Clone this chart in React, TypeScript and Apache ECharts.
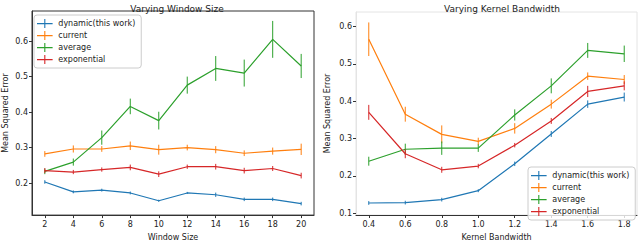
import React, { useEffect, useRef } from "react";
import * as echarts from "echarts";

const windowSizes = [2, 4, 6, 8, 10, 12, 14, 16, 18, 20];
const wDynamic = [0.203, 0.175, 0.18, 0.172, 0.15, 0.172, 0.167, 0.154, 0.154, 0.142];
const wDynamicErr = [0.005, 0.004, 0.004, 0.004, 0.003, 0.003, 0.006, 0.005, 0.005, 0.005];
const wCurrent = [0.282, 0.296, 0.296, 0.305, 0.294, 0.3, 0.294, 0.284, 0.29, 0.295];
const wCurrentErr = [0.008, 0.01, 0.008, 0.012, 0.014, 0.008, 0.01, 0.008, 0.01, 0.016];
const wAverage = [0.233, 0.259, 0.328, 0.416, 0.376, 0.476, 0.523, 0.51, 0.605, 0.53];
const wAverageErr = [0.008, 0.01, 0.02, 0.022, 0.025, 0.024, 0.035, 0.038, 0.052, 0.034];
const wExponential = [0.235, 0.231, 0.238, 0.244, 0.225, 0.246, 0.246, 0.235, 0.241, 0.221];
const wExponentialErr = [0.007, 0.006, 0.006, 0.008, 0.008, 0.006, 0.008, 0.008, 0.007, 0.008];

const bandwidths = [0.4, 0.6, 0.8, 1.0, 1.2, 1.4, 1.6, 1.8];
const bDynamic = [0.127, 0.128, 0.136, 0.16, 0.232, 0.312, 0.392, 0.411];
const bDynamicErr = [0.005, 0.005, 0.005, 0.004, 0.006, 0.008, 0.01, 0.012];
const bCurrent = [0.566, 0.365, 0.311, 0.292, 0.327, 0.392, 0.467, 0.458];
const bCurrentErr = [0.045, 0.02, 0.024, 0.01, 0.014, 0.012, 0.01, 0.012];
const bAverage = [0.239, 0.271, 0.274, 0.274, 0.363, 0.441, 0.536, 0.527];
const bAverageErr = [0.012, 0.015, 0.018, 0.01, 0.015, 0.02, 0.02, 0.022];
const bExponential = [0.37, 0.259, 0.216, 0.226, 0.282, 0.347, 0.426, 0.441];
const bExponentialErr = [0.02, 0.012, 0.008, 0.006, 0.006, 0.008, 0.015, 0.012];

const seriesNames = ["dynamic(this work)", "current", "average", "exponential"];
const colors = ["#1f77b4", "#ff7f0e", "#2ca02c", "#d62728"];

const windowTicks = [2, 4, 6, 8, 10, 12, 14, 16, 18, 20];
const windowYTicks = [0.2, 0.3, 0.4, 0.5, 0.6];
const bandTicks = [0.4, 0.6, 0.8, 1.0, 1.2, 1.4, 1.6, 1.8];
const bandYTicks = [0.1, 0.2, 0.3, 0.4, 0.5, 0.6];

const FONT = "DejaVu Sans";
const plusIcon = "path://M0,4.4h17v1.2h-17z M7.9,0h1.2v9.8h-1.2z";

export default function App() {
  const ref = useRef<HTMLDivElement>(null);
  useEffect(() => {
    if (!ref.current) return;
    const chart = echarts.init(ref.current, null, { renderer: "svg" });

    const groups = [
      { xs: windowSizes, ys: [wDynamic, wCurrent, wAverage, wExponential], es: [wDynamicErr, wCurrentErr, wAverageErr, wExponentialErr] },
      { xs: bandwidths, ys: [bDynamic, bCurrent, bAverage, bExponential], es: [bDynamicErr, bCurrentErr, bAverageErr, bExponentialErr] },
    ];

    const series: any[] = [];
    groups.forEach((g, gi) => {
      g.ys.forEach((vals, si) => {
        series.push({
          type: "line",
          name: seriesNames[si],
          xAxisIndex: gi,
          yAxisIndex: gi,
          data: g.xs.map((x, i) => [x, vals[i]]),
          showSymbol: false,
          symbol: "none",
          lineStyle: { color: colors[si], width: 1.2 },
          itemStyle: { color: colors[si] },
          z: 3 + si,
        });
        series.push({
          type: "custom",
          name: seriesNames[si],
          xAxisIndex: gi,
          yAxisIndex: gi,
          data: g.xs.map((x, i) => [x, vals[i], g.es[gi === 0 ? si : si][i]]),
          renderItem: (params: any, api: any) => {
            const x = api.value(0);
            const y = api.value(1);
            const e = api.value(2);
            const p1 = api.coord([x, y - e]);
            const p2 = api.coord([x, y + e]);
            return {
              type: "line",
              shape: { x1: p1[0], y1: p1[1], x2: p2[0], y2: p2[1] },
              style: { stroke: colors[si], lineWidth: 1 },
            };
          },
          encode: { x: 0, y: 1 },
          z: 3 + si,
        });
      });
    });

    const axisText = { fontFamily: FONT, fontSize: 8, color: "#222" };

    const legendBase = {
      orient: "vertical",
      data: seriesNames.map((n, i) => ({ name: n, icon: plusIcon, itemStyle: { color: colors[i] } })),
      itemWidth: 17,
      itemHeight: 9,
      itemGap: 3,
      textStyle: { fontFamily: FONT, fontSize: 8, color: "#222" },
      backgroundColor: "rgba(255,255,255,0.8)",
      borderColor: "#ccc",
      borderWidth: 1,
      borderRadius: 3,
      padding: [4, 6, 4, 3],
      selectedMode: false,
    };

    chart.setOption({
      animation: false,
      backgroundColor: "#fff",
      title: [
        { text: "Varying Window Size", left: 172, top: -1, textAlign: "center", textStyle: { fontFamily: FONT, fontSize: 9, fontWeight: "normal", color: "#222" } },
        { text: "Varying Kernel Bandwidth", left: 497, top: -1, textAlign: "center", textStyle: { fontFamily: FONT, fontSize: 9, fontWeight: "normal", color: "#222" } },
      ],
      legend: [
        { ...legendBase, left: 34, top: 15 },
        { ...legendBase, left: 528, top: 167 },
      ],
      grid: [
        { left: 30, top: 11, width: 284, height: 210, show: true, borderColor: "#333", borderWidth: 1, backgroundColor: "transparent" },
        { left: 356, top: 12, width: 281, height: 210, show: true, borderColor: "#e4e4e4", borderWidth: 1, backgroundColor: "transparent" },
      ],
      xAxis: [
        {
          type: "value", gridIndex: 0, min: 1.1, max: 20.9,
          name: "Window Size", nameLocation: "middle", nameGap: 16, nameTextStyle: axisText,
          axisLine: { show: true, lineStyle: { color: "#333" } },
          axisTick: { show: true, length: 3, lineStyle: { color: "#333" }, customValues: windowTicks },
          axisLabel: { ...axisText, margin: 5, customValues: windowTicks },
          splitLine: { show: false },
        },
        {
          type: "value", gridIndex: 1, min: 0.33, max: 1.87,
          name: "Kernel Bandwidth", nameLocation: "middle", nameGap: 18, nameTextStyle: axisText,
          axisLine: { show: true, lineStyle: { color: "#333" } },
          axisTick: { show: true, length: 3, lineStyle: { color: "#333" }, customValues: bandTicks },
          axisLabel: { ...axisText, margin: 5, customValues: bandTicks, formatter: (v: number) => v.toFixed(1) },
          splitLine: { show: false },
        },
      ],
      yAxis: [
        {
          type: "value", gridIndex: 0, min: 0.1096, max: 0.685,
          name: "Mean Squared Error", nameLocation: "middle", nameGap: 23, nameRotate: 90, nameTextStyle: axisText,
          axisLine: { show: true, lineStyle: { color: "#333" } },
          axisTick: { show: true, length: 3, lineStyle: { color: "#333" }, customValues: windowYTicks },
          axisLabel: { ...axisText, margin: 4, customValues: windowYTicks, formatter: (v: number) => v.toFixed(1) },
          splitLine: { show: false },
        },
        {
          type: "value", gridIndex: 1, min: 0.0948, max: 0.639,
          name: "Mean Squared Error", nameLocation: "middle", nameGap: 25, nameRotate: 90, nameTextStyle: axisText,
          axisLine: { show: true, lineStyle: { color: "#e4e4e4" } },
          axisTick: { show: true, length: 3, lineStyle: { color: "#333" }, customValues: bandYTicks },
          axisLabel: { ...axisText, margin: 4, customValues: bandYTicks, formatter: (v: number) => v.toFixed(1) },
          splitLine: { show: false },
        },
      ],
      series,
    });

    return () => chart.dispose();
  }, []);

  return <div ref={ref} style={{ position: "fixed", left: 0, top: 0, width: 640, height: 246 }} />;
}
